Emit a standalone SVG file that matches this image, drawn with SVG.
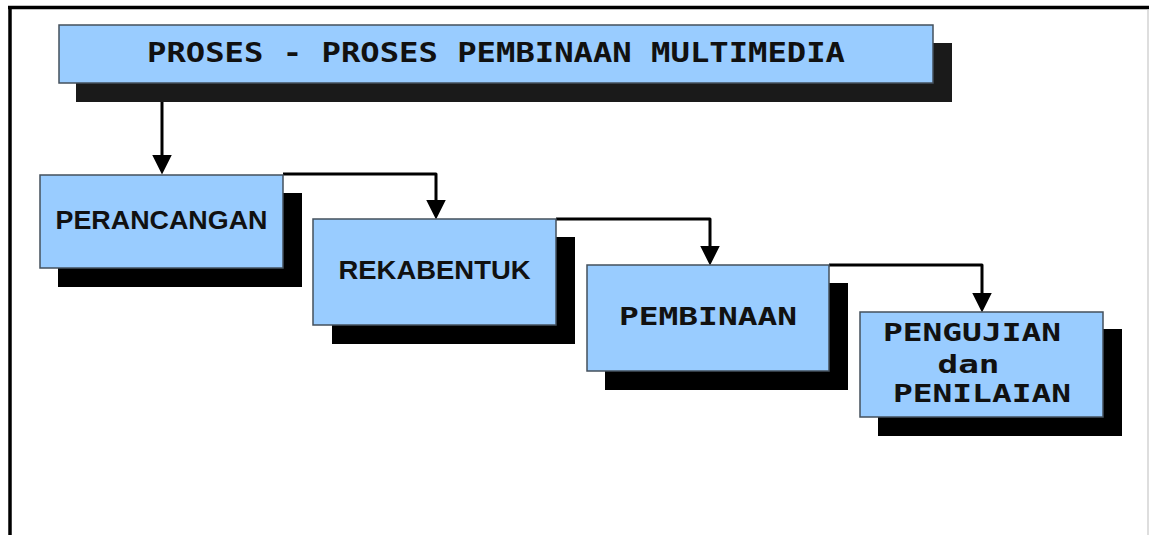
<svg xmlns="http://www.w3.org/2000/svg" width="1149" height="535" viewBox="0 0 1149 535">
<style>
.shadow{fill:#000}
.tshadow{fill:#1a1a1a}
.box{fill:#99ccff;stroke:#44505c;stroke-width:1.5}
.conn{fill:none;stroke:#000;stroke-width:3;stroke-linejoin:round}
.sans{font-family:"Liberation Sans",Arial,sans-serif;font-weight:bold;font-size:26.5px;fill:#111}
.mono{font-family:"DejaVu Sans Mono","Liberation Mono",monospace;font-weight:bold;font-size:25px;fill:#111}
</style>
<defs>
<marker id="ah" markerUnits="userSpaceOnUse" markerWidth="20" markerHeight="20" viewBox="0 0 19 19" refX="9" refY="9.5" orient="auto">
<path d="M0,0 L19,9.5 L0,19 z" fill="#000"/>
</marker>
</defs>
<rect width="1149" height="535" fill="#fff"/>
<g id="frame">
<line x1="8" y1="7.5" x2="1149" y2="7.5" stroke="#000" stroke-width="3.5"/>
<line x1="10" y1="6" x2="10" y2="535" stroke="#000" stroke-width="3.5"/>
<line x1="1148" y1="9" x2="1148" y2="535" stroke="#c8c8c8" stroke-width="1.2"/>
</g>
<g id="connectors">
<path class="conn" d="M162,100 L162,164" marker-end="url(#ah)"/>
<path class="conn" d="M283,174 L436,174 L436,209" marker-end="url(#ah)"/>
<path class="conn" d="M556,219 L710,219 L710,255" marker-end="url(#ah)"/>
<path class="conn" d="M829,265 L982,265 L982,302" marker-end="url(#ah)"/>
</g>
<g id="title">
<rect class="tshadow" x="76" y="43" width="876" height="59"/>
<rect class="box" x="59" y="25" width="874" height="58"/>
<text class="mono" x="496" y="62" text-anchor="middle" style="font-size:26px" textLength="698" lengthAdjust="spacingAndGlyphs">PROSES - PROSES PEMBINAAN MULTIMEDIA</text>
</g>
<g id="perancangan">
<rect class="shadow" x="58" y="193" width="244" height="94"/>
<rect class="box" x="40" y="175" width="243" height="93"/>
<text class="sans" x="161.5" y="229" text-anchor="middle" textLength="212" lengthAdjust="spacingAndGlyphs">PERANCANGAN</text>
</g>
<g id="rekabentuk">
<rect class="shadow" x="332" y="237" width="243" height="107"/>
<rect class="box" x="313" y="219" width="243" height="106"/>
<text class="sans" x="434.5" y="279" text-anchor="middle" textLength="192" lengthAdjust="spacingAndGlyphs">REKABENTUK</text>
</g>
<g id="pembinaan">
<rect class="shadow" x="605" y="283" width="243" height="107"/>
<rect class="box" x="587" y="265" width="242" height="106"/>
<text class="mono" x="708" y="325" text-anchor="middle" textLength="178" lengthAdjust="spacingAndGlyphs">PEMBINAAN</text>
</g>
<g id="pengujian">
<rect class="shadow" x="878" y="329" width="244" height="107"/>
<rect class="box" x="860" y="312" width="243" height="105"/>
<text class="mono" x="972" y="341" text-anchor="middle" textLength="178" lengthAdjust="spacingAndGlyphs">PENGUJIAN</text>
<text class="mono" x="968.5" y="373" text-anchor="middle" textLength="62" lengthAdjust="spacingAndGlyphs">dan</text>
<text class="mono" x="982" y="402" text-anchor="middle" textLength="178" lengthAdjust="spacingAndGlyphs">PENILAIAN</text>
</g>
</svg>
